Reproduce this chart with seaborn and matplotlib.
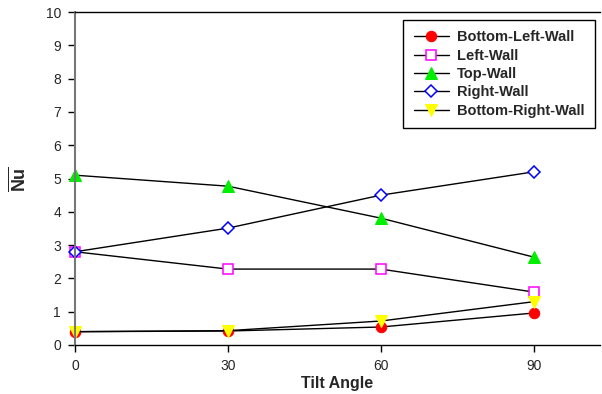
import numpy as np
import pandas as pd
import matplotlib
matplotlib.use("Agg")
import matplotlib.pyplot as plt
import seaborn as sns

# Tilt angles and wall-averaged Nusselt numbers
tilt_angles = [0, 30, 60, 90]
bottom_left_wall = [0.40, 0.42, 0.54, 0.96]
left_wall = [2.80, 2.28, 2.28, 1.59]
top_wall = [5.10, 4.77, 3.81, 2.64]
right_wall = [2.80, 3.51, 4.50, 5.20]
bottom_right_wall = [0.40, 0.43, 0.72, 1.30]

y_ticks = list(range(0, 11))
x_ticks = [0, 30, 60, 90]

sns.set_style("white")
plt.rcParams['font.family'] = ['Liberation Sans', 'DejaVu Sans']
plt.rcParams['mathtext.fontset'] = 'custom'
plt.rcParams['mathtext.bf'] = 'Liberation Sans:bold'
plt.rcParams['mathtext.rm'] = 'Liberation Sans'

fig = plt.figure(figsize=(6.02, 3.94), dpi=100)
ax = fig.add_axes([0.1246, 0.1244, 0.872, 0.845])

series = [
    ("Bottom-Left-Wall", bottom_left_wall, dict(marker="o", markersize=7.5, markerfacecolor="red", markeredgecolor="red")),
    ("Left-Wall", left_wall, dict(marker="s", markersize=6.5, markerfacecolor="white", markeredgecolor="magenta", markeredgewidth=1.1)),
    ("Top-Wall", top_wall, dict(marker="^", markersize=8, markerfacecolor="#00ee00", markeredgecolor="#00ee00")),
    ("Right-Wall", right_wall, dict(marker="D", markersize=6.5, markerfacecolor="white", markeredgecolor="blue", markeredgewidth=1.1)),
    ("Bottom-Right-Wall", bottom_right_wall, dict(marker="v", markersize=8, markerfacecolor="yellow", markeredgecolor="yellow")),
]

for name, vals, style in series:
    df = pd.DataFrame({"angle": tilt_angles, "nu": vals})
    sns.lineplot(data=df, x="angle", y="nu", ax=ax, color="black", linewidth=1.0,
                 label=name, clip_on=False, **style)

ax.set_xlim(0, 103)
ax.set_ylim(0, 10)
ax.set_xticks(x_ticks)
ax.set_yticks(y_ticks)
ax.tick_params(axis="both", direction="out", length=5, width=1, color="black",
               labelsize=10, pad=5, left=True, bottom=True)

for side in ["left", "bottom", "top"]:
    ax.spines[side].set_color("black")
    ax.spines[side].set_linewidth(1.0)
ax.spines["right"].set_visible(False)
ax.spines["left"].set_color("#777777")
ax.spines["left"].set_linewidth(1.5)

ax.set_xlabel("Tilt Angle", fontsize=11.5, fontweight="bold", labelpad=2)
ax.set_ylabel(r"$\overline{\mathbf{Nu}}$", fontsize=13, labelpad=12)

leg = ax.legend(loc="upper right", bbox_to_anchor=(0.9985, 0.99), frameon=True,
                fancybox=False, edgecolor="black", framealpha=1,
                prop={"weight": "bold", "size": 10.5}, handlelength=2.4,
                labelspacing=0.3, borderpad=0.72, handletextpad=0.55,
                borderaxespad=0.3)
leg.get_frame().set_linewidth(1.0)

fig.savefig("out.png", dpi=100)
